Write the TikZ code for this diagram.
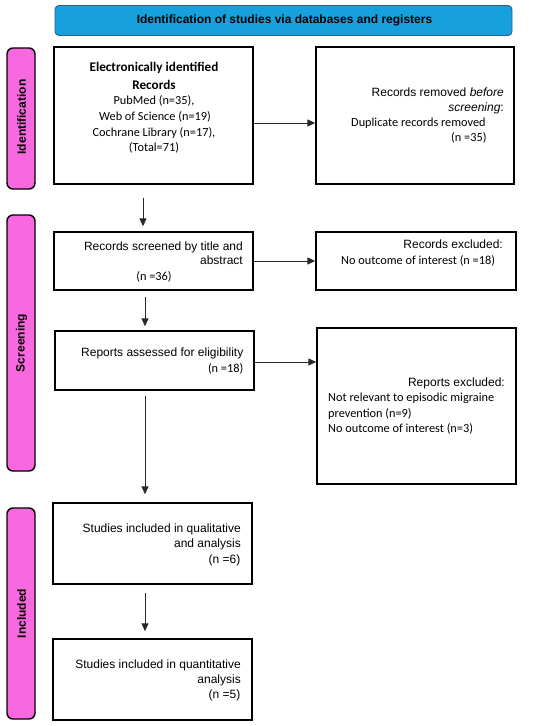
\documentclass[tikz,border=0pt]{standalone}
\usepackage{fontspec}
\setmainfont{Liberation Sans}
\newfontfamily\carl{Carlito}
\usetikzlibrary{arrows.meta}
\definecolor{bannerfill}{RGB}{22,160,220}
\definecolor{bannerdraw}{RGB}{45,95,135}
\definecolor{pinkfill}{RGB}{248,104,222}
\definecolor{arrgray}{RGB}{40,40,40}
\tikzset{
  box/.style={draw=black, line width=1.4pt, fill=white, inner sep=0pt},
  phase/.style={draw=black, line width=1.4pt, fill=pinkfill, rounded corners=6pt, inner sep=0pt},
  phasetext/.style={rotate=90, font=\fontsize{12}{14}\selectfont\bfseries},
  arial/.style={inner sep=0pt, text height=9pt, text depth=3pt, font=\fontsize{12}{14}\selectfont},
  calib/.style={inner sep=0pt, text height=9pt, text depth=3pt, font=\carl\fontsize{12.3}{14}\selectfont},
  calibb/.style={inner sep=0pt, text height=9.5pt, text depth=3pt, font=\carl\bfseries\fontsize{13.2}{15}\selectfont},
  arr/.style={draw=arrgray, line width=0.9pt, -{Triangle[length=8pt,width=7pt]}}
}
\begin{document}
\begin{tikzpicture}[x=1pt,y=-1pt]
\useasboundingbox (0,0) rectangle (550,726);
% banner
\node[draw=bannerdraw, line width=0.9pt, fill=bannerfill, rounded corners=4pt, minimum width=457pt, minimum height=30pt, inner sep=0pt] (banner) at (283.5,20.5) {};
\node[font=\fontsize{12}{14}\selectfont\bfseries, inner sep=0pt] (bannertxt) at (284.5,20.5) {Identification of studies via databases and registers};
% phase labels
\node[phase, minimum width=28pt, minimum height=141pt] (pid) at (21,118.5) {};
\node[phasetext] (pidt) at (21.5,117) {Identification};
\node[phase, minimum width=28pt, minimum height=256pt] (psc) at (21,343) {};
\node[phasetext] (psct) at (21.5,343) {Screening};
\node[phase, minimum width=28pt, minimum height=211pt] (pin) at (21,613.5) {};
\node[phasetext] (pint) at (21.5,613.5) {Included};
% boxes
\node[box, minimum width=199pt, minimum height=137pt] (A) at (153.5,115.5) {};
\node[box, minimum width=198pt, minimum height=137pt] (B) at (415,115.5) {};
\node[box, minimum width=199pt, minimum height=58pt] (C) at (153.5,261) {};
\node[box, minimum width=200pt, minimum height=58pt] (D) at (416,261) {};
\node[box, minimum width=199pt, minimum height=59pt] (E) at (154.5,360.5) {};
\node[box, minimum width=199pt, minimum height=156pt] (F) at (416.5,406) {};
\node[box, minimum width=199pt, minimum height=81pt] (G) at (152.5,543.5) {};
\node[box, minimum width=199pt, minimum height=81pt] (H) at (152.5,679.5) {};
% box A text
\node[calibb] (a1) at (154,68) {Electronically identified};
\node[calibb] (a2) at (154,86) {Records};
\node[calib] (a3) at (154,101.5) {PubMed (n=35),};
\node[calib] (a4) at (155,117) {Web of Science (n=19)};
\node[calib] (a5) at (154,133) {Cochrane Library (n=17),};
\node[calib] (a6) at (154,148.5) {(Total=71)};
% box B text
\node[arial, anchor=east] (b1) at (504,93.5) {Records removed \textit{before}};
\node[arial, anchor=east] (b2) at (504,108) {\textit{screening}:};
\node[calib, anchor=west] (b3) at (351,123) {Duplicate records removed};
\node[calib, anchor=west] (b4) at (451,138.5) {(n =35)};
% box C text
\node[arial, anchor=east] (c1) at (243,247) {Records screened by title and};
\node[arial, anchor=east] (c2) at (243,261.5) {abstract};
\node[calib] (c3) at (154,277) {(n =36)};
% box D text
\node[arial, anchor=east] (d1) at (503,245) {Records excluded:};
\node[calib, anchor=west] (d2) at (341,261) {No outcome of interest (n =18)};
% box E text
\node[arial, anchor=east] (e1) at (243.5,353.5) {Reports assessed for eligibility};
\node[calib, anchor=east] (e2) at (243.5,369) {(n =18)};
% box F text
\node[arial, anchor=east] (f1) at (505,383.5) {Reports excluded:};
\node[calib, anchor=west] (f2) at (328,398.5) {Not relevant to episodic migraine};
\node[calib, anchor=west] (f3) at (328,414) {prevention (n=9)};
\node[calib, anchor=west] (f4) at (328,429.5) {No outcome of interest (n=3)};
% box G text
\node[arial, anchor=east] (g1) at (241,529.5) {Studies included in qualitative};
\node[arial, anchor=east] (g2) at (241,544) {and analysis};
\node[arial, anchor=east] (g3) at (240.5,560) {(n =6)};
% box H text
\node[arial, anchor=east] (h1) at (241,665.5) {Studies included in quantitative};
\node[arial, anchor=east] (h2) at (241,680.5) {analysis};
\node[arial, anchor=east] (h3) at (240.5,695.5) {(n =5)};
% arrows
\draw[arr] ([yshift=-7.5pt]A.east) -- ([yshift=-7.5pt]A.east -| B.west);
\draw[arr] (C.east) -- (C.east -| D.west);
\draw[arr] ([yshift=-1.5pt]E.east) -- ([yshift=-1.5pt]E.east -| F.west);
\draw[arr] ([shift={(-10.5,13)}]A.south) -- ([shift={(-10.5,-5)}]C.north);
\draw[arr] ([shift={(-8.5,6)}]C.south) -- ([shift={(-9.5,-4)}]E.north);
\draw[arr] ([shift={(-9.5,5)}]E.south) -- ([shift={(-7.5,-8)}]G.north);
\draw[arr] ([shift={(-7.5,8)}]G.south) -- ([shift={(-7.5,-7)}]H.north);
\end{tikzpicture}
\end{document}
